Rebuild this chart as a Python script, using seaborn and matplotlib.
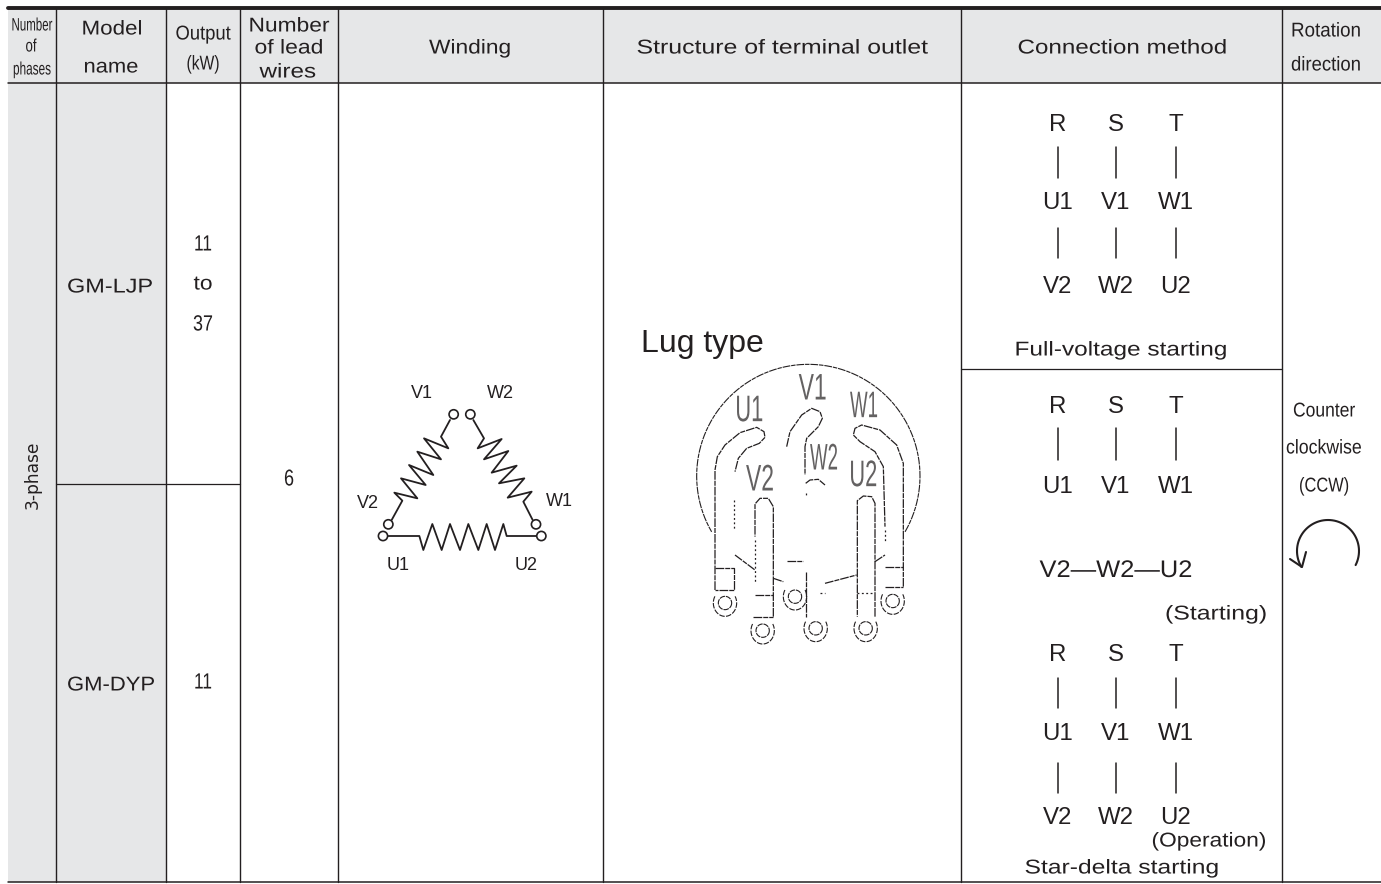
import numpy as np
import matplotlib
matplotlib.use("Agg")
import matplotlib.pyplot as plt
import matplotlib.patheffects as pe
from matplotlib.transforms import Affine2D, Bbox
import seaborn as sns

sns.set_theme(style="white")

W, H = 1381, 884
INK = "#231f20"
GREY = "#e6e7e8"
SANS = "Liberation Sans"

col_edges = [56, 166, 240, 338, 603, 961, 1282]
# text, centre x, centre y, size, width on the page
header_wide = [("Model", 112, 28, 20, 61), ("name", 111, 66, 20, 55), ("Number", 289, 25, 20, 81),
               ("of lead", 289, 47, 20, 69), ("wires", 288, 71, 20, 57), ("Winding", 470, 47, 20, 82),
               ("Structure of terminal outlet", 782, 47, 20, 291), ("Connection method", 1122, 47, 20, 209)]
header_narrow = [("Number", 32, 25, 18, 41), ("of", 31, 46, 18, 11), ("phases", 32, 69, 18, 38),
                 ("Output", 203, 33, 20, 55), ("(kW)", 203, 63, 20, 33),
                 ("Rotation", 1326, 30, 20, 70), ("direction", 1326, 64, 20, 70)]
models = [("GM-LJP", 110, 286, 20, 86), ("GM-DYP", 111, 684, 20, 88)]
outputs = [("11", 203, 244, 22, 18), ("to", 203, 283, 20, 19), ("37", 203, 324, 22, 20), ("11", 203, 682, 22, 18)]
rotation = [("Counter", 1324, 410, 20, 62), ("clockwise", 1324, 447, 20, 76), ("(CCW)", 1324, 485, 20, 50)]

conn_x = [1058, 1116, 1176]
row_rst = ["R", "S", "T"]
row_uvw = ["U1", "V1", "W1"]
row_low = ["V2", "W2", "U2"]
text_rows = [(row_rst, 124), (row_uvw, 202), (row_low, 286), (row_rst, 406), (row_uvw, 486),
             (row_rst, 654), (row_uvw, 733), (row_low, 817)]
bar_rows = [(147, 178), (228, 258), (428, 460), (678, 708), (763, 793)]
conn_notes = [("Full-voltage starting", 1121, 349, 20, 213), ("(Starting)", 1216, 613, 20, 102),
              ("(Operation)", 1209, 840, 20, 115), ("Star-delta starting", 1122, 867, 20, 195)]

# winding sketch, in zoom crop units (origin 340,370, scale 3)
coil_left = [(330, 150), (303, 200), (325, 235), (252, 205), (303, 268), (232, 245), (280, 315), (207, 285),
             (257, 345), (183, 325), (232, 385), (163, 368), (187, 392), (155, 450)]
coil_right = [(400, 150), (432, 205), (413, 235), (485, 207), (432, 268), (505, 243), (455, 308), (530, 287),
              (477, 340), (553, 325), (503, 383), (575, 365), (550, 395), (578, 450)]
coil_bottom = [(145, 498), (238, 498), (250, 540), (277, 462), (305, 540), (330, 462), (360, 540), (385, 462),
               (415, 540), (440, 462), (465, 540), (490, 462), (500, 498), (590, 498)]
coil_terminals = [(341, 133), (391, 133), (145, 463), (129, 498), (588, 463), (604, 498)]
coil_labels = [("V1", 422, 393), ("W2", 500, 393), ("V2", 368, 503), ("W1", 559, 501), ("U1", 398, 564), ("U2", 526, 564)]

# terminal outlet sketch, in zoom crop units (origin 640,320, scale 3)
lug_paths = [
    [(225, 810), (225, 450), (232, 410), (255, 375), (300, 338), (350, 322), (372, 335), (375, 352), (358, 370),
     (320, 385), (295, 415), (285, 455)],
    [(440, 380), (450, 335), (485, 285), (515, 265), (540, 275), (547, 295), (535, 320), (500, 355), (495, 380), (495, 465)],
    [(790, 800), (790, 430), (770, 375), (720, 330), (665, 315), (645, 325), (640, 345), (660, 365), (705, 395),
     (730, 440), (735, 620)],
    [(400, 890), (400, 560), (385, 535), (360, 535), (345, 552), (345, 650)],
    [(705, 890), (705, 550), (695, 530), (670, 528), (652, 542), (652, 890)],
    [(497, 490), (510, 480), (535, 478), (555, 495)],
    [(497, 755), (497, 890)],
    [(225, 745), (283, 745), (283, 810), (225, 810)],
    [(345, 825), (400, 825)], [(340, 890), (400, 890)],
    [(735, 740), (790, 740)], [(735, 800), (790, 800)],
    [(440, 722), (490, 722)],
    [(285, 705), (345, 750)], [(400, 775), (430, 785)], [(555, 790), (650, 765)], [(705, 725), (735, 705)],
]
lug_dotted = [[(283, 540), (283, 630)], [(345, 660), (345, 790)], [(652, 820), (700, 820)],
              [(735, 630), (735, 670)], [(497, 520), (497, 525)], [(540, 820), (555, 820)]]
lug_eyes = [(255, 849), (368, 932), (465, 830), (527, 925), (677, 925), (758, 843)]
lug_labels = [("U1", 328, 275), ("V1", 518, 210), ("W1", 672, 263), ("V2", 360, 483), ("W2", 552, 420), ("U2", 670, 470)]


class StretchX(pe.AbstractPathEffect):
    # the reference type is condensed or letter spaced, matplotlib has neither
    def __init__(self, sx, x0):
        super().__init__()
        self.sx = sx
        self.x0 = x0

    def draw_path(self, renderer, gc, tpath, affine, rgbFace=None):
        fit = affine + Affine2D().translate(-self.x0, 0).scale(self.sx, 1).translate(self.x0, 0)
        renderer.draw_path(gc, tpath, fit, rgbFace)


def px(x):
    # pixels to points at dpi 100
    return x * 0.72


fig, ax = plt.subplots(figsize=(W / 100, H / 100), dpi=100)
fig.subplots_adjust(0, 0, 1, 1)
ax.set_xlim(0, W)
ax.set_ylim(H, 0)
ax.axis("off")


def line(pts, lw=1.4, ls="-", color=INK):
    xs = [p[0] for p in pts]
    ys = [p[1] for p in pts]
    sns.lineplot(x=xs, y=ys, ax=ax, estimator=None, sort=False, color=color, linewidth=lw,
                 linestyle=ls, legend=False)


def label(s, x, y, size, width=None, family=SANS, **kw):
    t = ax.text(x, y + 1, s, fontsize=px(size), family=family, color=INK, ha="center", va="center", **kw)
    if width is not None:
        box = t.get_window_extent(fig.canvas.get_renderer())
        t.set_path_effects([StretchX(width / box.width, x)])
        fitted = Bbox.from_extents(x - width / 2, box.y0, x + width / 2, box.y1)
        t.get_window_extent = lambda renderer=None, dpi=None: fitted
    return t


# shading and grid
ax.fill_between([8, W], 8, 83, color=GREY, lw=0)
ax.fill_between([8, 166], 83, 882, color=GREY, lw=0)
line([(8, 8), (W, 8)], lw=2.8)
line([(8, 83), (W, 83)], lw=1.1)
line([(8, 882), (W, 882)], lw=1.1)
for x in col_edges:
    line([(x, 8), (x, 882)], lw=1.0)
line([(56, 484), (240, 484)], lw=0.9)
line([(961, 369), (1282, 369)], lw=0.9)

# header and body text
for s, x, y, size, width in header_wide + header_narrow + models + outputs + rotation + conn_notes:
    label(s, x, y, size, width)
label("3-phase", 33, 474, 17, family="DejaVu Sans", rotation=90)
label("6", 289, 478, 23, 10)

# connection method column
for row, y in text_rows:
    for s, x in zip(row, conn_x):
        label(s, x, y, 24)
for top, bottom in bar_rows:
    for x in conn_x:
        line([(x, top), (x, bottom)], lw=1.1)
label("V2\u2014W2\u2014U2", 1116, 570, 24, 153)


# winding
def winding(p):
    return (340 + p[0] / 3, 370 + p[1] / 3)


for coil in (coil_left, coil_right, coil_bottom):
    line([winding(p) for p in coil], lw=1.3)
for p in coil_terminals:
    cx, cy = winding(p)
    ax.add_patch(plt.Circle((cx, cy), 4.6, fc="white", ec=INK, lw=1.2, zorder=4))
for s, x, y in coil_labels:
    label(s, x, y, 18)


# terminal outlet
def lug(p):
    return (640 + p[0] / 3, 320 + p[1] / 3)


label("Lug type", 702, 343, 32)
theta = np.radians(np.linspace(-30, 210, 90))
circle = [(505 + 335 * np.cos(t), 468 - 335 * np.sin(t)) for t in theta]
dash = (0, (7, 0.8, 4, 0.8))
line([lug(p) for p in circle], lw=0.8, ls=dash)
for path in lug_paths:
    line([lug(p) for p in path], lw=0.9, ls=dash)
for path in lug_dotted:
    line([lug(p) for p in path], lw=0.9, ls=(0, (1.5, 2)))
# lug eyes, inner ring and an open outer ring
ring = np.radians(np.linspace(0, 360, 40))
sweep = np.radians(np.linspace(150, 390, 40))
for ex, ey in lug_eyes:
    line([lug((ex + 20 * np.cos(t), ey + 20 * np.sin(t))) for t in ring], lw=0.8, ls=(0, (5, 0.8)))
    line([lug((ex + 35 * np.cos(t), ey + 40 * np.sin(-t))) for t in sweep], lw=0.8, ls=(0, (5, 1.2)))
for s, x, y in lug_labels:
    cx, cy = lug((x, y))
    label(s, cx, cy - 1, 37, 28, alpha=0.7)

# rotation arrow
theta = np.radians(np.linspace(-27, 211, 60))
line([(1328 + 31 * np.cos(t), 551 - 31 * np.sin(t)) for t in theta], lw=1.5)
line([(1290, 559), (1302, 567), (1306, 552)], lw=1.5)

fig.savefig("out.png", dpi=100)
